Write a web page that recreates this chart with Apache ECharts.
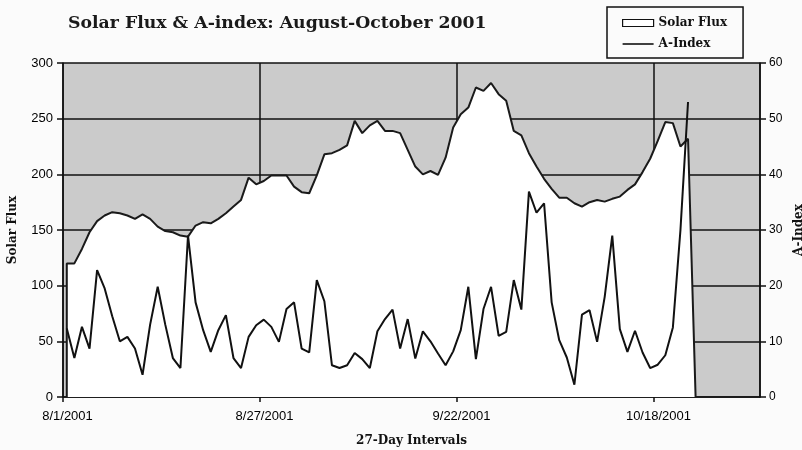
<!DOCTYPE html>
<html>
<head>
<meta charset="utf-8">
<script src="https://cdn.jsdelivr.net/npm/echarts@6/dist/echarts.min.js"></script>
<style>
html,body{margin:0;padding:0;background:#fbfbfb;}
#chart{width:802px;height:450px;}
</style>
</head>
<body>
<div id="chart"></div>
<script>
// Daily values from 8/1/2001 onward (one per day)
const fluxValues = [120,120,133,148,158,163,166,165,163,160,164,160,153,149,148,145,144,154,157,156,
  160,165,171,177,197,191,194,199,199,199,189,184,183,199,218,219,222,226,248,237,
  244,248,239,239,237,222,207,200,203,199.5,215,242,254,260,278,275,282,272,266,239,
  235,219,207,196,187,179,179,174,171,175,177,175.5,178,180,186,191,202,214,230,247,
  246,225,232];
const aIndexValues = [12.3,7.0,12.6,8.7,22.8,19.5,14.5,10.0,10.8,8.7,4.0,13.0,19.8,13.0,7.0,5.2,29.0,17.0,12.0,8.1,
  12.0,14.7,7.0,5.2,10.8,12.9,13.9,12.6,9.9,15.8,17.0,8.7,8.0,21.0,17.2,5.7,5.2,5.7,7.9,6.8,
  5.2,11.8,14.0,15.7,8.7,14.0,6.9,11.8,10.0,7.8,5.7,8.2,12.0,19.8,6.8,15.8,19.8,11.0,11.7,21.0,
  15.7,36.9,33.1,34.8,17.0,10.2,7.1,2.2,14.8,15.6,9.9,18.0,29.0,12.2,8.1,11.9,8.0,5.2,5.8,7.5,
  12.5,30.0,53.0];
const xTickDays = [0, 26, 52, 78];
const xTickLabels = ['8/1/2001', '8/27/2001', '9/22/2001', '10/18/2001'];
const totalDays = 92;

const fluxData = [[0.5, 0]].concat(fluxValues.map((v, i) => [i + 0.5, v])).concat([[fluxValues.length + 0.5, 0]]);
const aData = aIndexValues.map((v, i) => [i + 0.5, v]);

const chart = echarts.init(document.getElementById('chart'));
const labelFont = {fontFamily: 'Liberation Sans, Arial, sans-serif', fontSize: 13, color: '#000'};
const titleFont = {fontFamily: 'DejaVu Serif, serif', fontWeight: 'bold', fontSize: 12, color: '#111'};

chart.setOption({
  backgroundColor: '#fbfbfb',
  animation: false,
  title: {
    text: 'Solar Flux & A-index: August-October 2001',
    left: 63, top: 10,
    textStyle: {fontFamily: 'DejaVu Serif, serif', fontWeight: 'bold', fontSize: 17.3, color: '#1a1a1a'}
  },
  legend: {
    orient: 'vertical',
    left: 607, top: 7,
    padding: [10, 16, 8, 15],
    itemWidth: 31, itemHeight: 7, itemGap: 9,
    borderColor: '#111', borderWidth: 1.5,
    backgroundColor: '#fbfbfb',
    textStyle: {fontFamily: 'DejaVu Serif, serif', fontWeight: 'bold', fontSize: 12, color: '#111'},
    data: [
      {name: 'Solar Flux', icon: 'rect', itemStyle: {color: '#ffffff', borderColor: '#111', borderWidth: 1.2}},
      {name: 'A-Index', icon: 'path://M0,0 L31,0 L31,1.6 L0,1.6 Z', itemStyle: {color: '#111', borderWidth: 0}}
    ]
  },
  grid: {
    left: 63, right: 42, top: 63, bottom: 53,
    outerBoundsMode: 'none', containLabel: false,
    show: true, backgroundColor: '#cbcbcb', borderWidth: 0
  },
  xAxis: {
    type: 'value', min: 0, max: totalDays, interval: 26,
    name: '27-Day Intervals', nameLocation: 'middle', nameGap: 38,
    nameTextStyle: titleFont,
    axisLine: {show: true, lineStyle: {color: '#111', width: 1.5}},
    axisTick: {show: true, length: 5, lineStyle: {color: '#111', width: 1.5}},
    axisLabel: {
      ...labelFont, margin: 13, padding: [0, 0, 0, 9], showMaxLabel: false,
      formatter: v => { const k = xTickDays.indexOf(v); return k >= 0 ? xTickLabels[k] : ''; }
    },
    splitLine: {show: true, lineStyle: {color: '#111', width: 1.5}}
  },
  yAxis: [
    {
      type: 'value', min: 0, max: 300, interval: 50,
      name: 'Solar Flux', nameLocation: 'middle', nameGap: 44, nameRotate: 90,
      nameTextStyle: titleFont,
      axisLine: {show: true, lineStyle: {color: '#111', width: 1.5}},
      axisTick: {show: true, length: 6, lineStyle: {color: '#111', width: 1.5}},
      axisLabel: {...labelFont, margin: 10},
      splitLine: {show: true, lineStyle: {color: '#111', width: 1.5}}
    },
    {
      type: 'value', min: 0, max: 60, interval: 10, position: 'right',
      name: 'A-Index', nameLocation: 'middle', nameGap: 23, nameRotate: 90,
      nameTextStyle: titleFont,
      axisLine: {show: true, lineStyle: {color: '#111', width: 1.5}},
      axisTick: {show: true, length: 6, lineStyle: {color: '#111', width: 1.5}},
      axisLabel: {...labelFont, fontSize: 12, margin: 9},
      splitLine: {show: false}
    }
  ],
  series: [
    {
      name: 'Solar Flux', type: 'line', xAxisIndex: 0, yAxisIndex: 0,
      data: fluxData, symbol: 'none', smooth: false,
      lineStyle: {color: '#1a1a1a', width: 2},
      itemStyle: {color: '#ffffff', borderColor: '#111'},
      areaStyle: {color: '#ffffff', opacity: 1},
      z: 2
    },
    {
      name: 'A-Index', type: 'line', xAxisIndex: 0, yAxisIndex: 1,
      data: aData, symbol: 'none', smooth: false,
      lineStyle: {color: '#111', width: 2},
      itemStyle: {color: '#111'},
      z: 3
    }
  ]
});
</script>
</body>
</html>
